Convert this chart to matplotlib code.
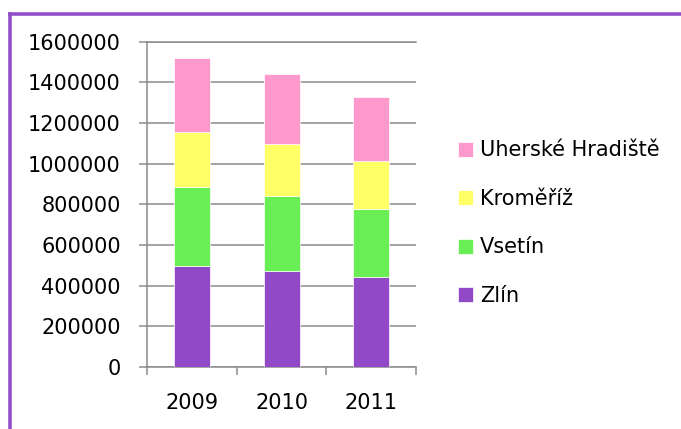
import matplotlib
matplotlib.use("Agg")
import matplotlib.pyplot as plt
from matplotlib.lines import Line2D
from matplotlib.ticker import FuncFormatter, MultipleLocator, FixedLocator
import numpy as np

years = ["2009", "2010", "2011"]
zlin = [498000, 474000, 443000]
vsetin = [386000, 369000, 336000]
kromeriz = [273000, 254000, 235000]
uh_hradiste = [363000, 346000, 315000]

series = [("Zlín", zlin, "#9149C8"),
          ("Vsetín", vsetin, "#6AEE55"),
          ("Kroměříž", kromeriz, "#FFFF66"),
          ("Uherské Hradiště", uh_hradiste, "#FF99CC")]

plt.rcParams['font.family'] = ['DejaVu Sans']
grid_col = "#8C8C8C"

fig = plt.figure(figsize=(6.81, 4.29), dpi=100)
ax = fig.add_axes([0.2163, 0.1445, 0.3946, 0.7583])

x = np.arange(len(years))
bottom = np.zeros(len(years))
handles = []
for name, vals, col in series:
    b = ax.bar(x, vals, width=0.40, bottom=bottom, color=col, edgecolor="white",
               linewidth=0.5, label=name, zorder=3)
    handles.append(b)
    bottom += np.array(vals)

ax.set_xlim(-0.5, 2.5)
ax.set_ylim(0, 1600000)
ax.yaxis.set_major_locator(MultipleLocator(200000))
ax.yaxis.set_major_formatter(FuncFormatter(lambda v, p: f"{int(v)}"))
ax.grid(axis="y", color=grid_col, linewidth=1.1, zorder=0)

ax.set_xticks(x)
ax.set_xticklabels(years)
ax.xaxis.set_minor_locator(FixedLocator([-0.5, 0.5, 1.5, 2.5]))
ax.tick_params(axis="x", which="major", length=0, pad=19, labelsize=15)
ax.tick_params(axis="x", which="minor", length=6, width=1.1, color=grid_col)
ax.tick_params(axis="y", length=6, width=1.1, color=grid_col, pad=13, labelsize=15)

ax.spines["right"].set_visible(False)
for s in ["left", "bottom", "top"]:
    ax.spines[s].set_color(grid_col)
    ax.spines[s].set_linewidth(1.1)

fig.legend(handles[::-1], [s[0] for s in series][::-1], loc="center left",
           bbox_to_anchor=(0.6725, 0.4797), frameon=False, fontsize=15,
           handlelength=0.72, handleheight=0.72, handletextpad=0.35,
           labelspacing=1.37, borderpad=0, borderaxespad=0)

# purple frame around the chart (only left and top edges fall inside the picture)
fx = 10 / 681
fy = 1 - 13.5 / 429
fig.add_artist(Line2D([fx, fx], [0, fy], transform=fig.transFigure,
                      color="#9150C8", linewidth=2.6, solid_capstyle="projecting"))
fig.add_artist(Line2D([fx, 1], [fy, fy], transform=fig.transFigure,
                      color="#9150C8", linewidth=2.6, solid_capstyle="projecting"))

fig.savefig("out.png", dpi=100)
